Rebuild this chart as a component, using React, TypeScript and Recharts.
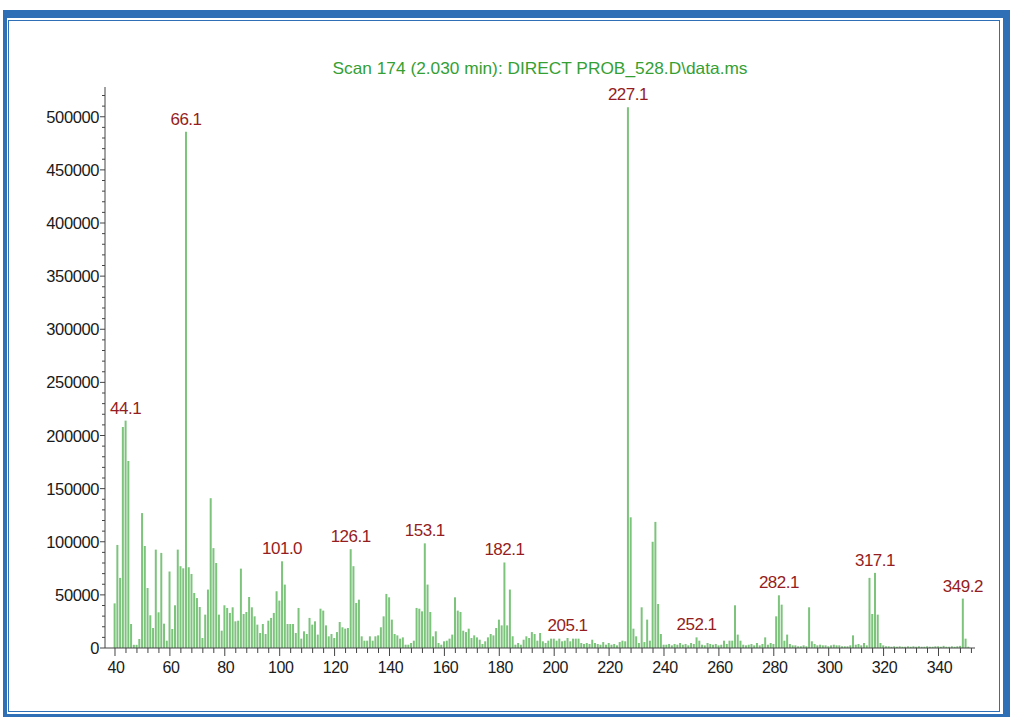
import React from 'react';
import { BarChart, Bar, XAxis, YAxis, LabelList } from 'recharts';

// Mass spectrum of scan 174: abundance for every integer m/z, starting at m/z 40.
const FIRST_MZ = 40;

const abundance040 = [42000, 97000, 66000, 208000, 214000, 176000, 22600, 3000, 3000, 8500];
const abundance050 = [127000, 96000, 56500, 30800, 18800, 92600, 33600, 89500, 22900, 6900];
const abundance060 = [72000, 17900, 40200, 92600, 77000, 75000, 486000, 76000, 69700, 51800];
const abundance070 = [47000, 38600, 9400, 31400, 55000, 141000, 94000, 80000, 31400, 16300];
const abundance080 = [40200, 37700, 33000, 38300, 25100, 25700, 74700, 32000, 33900, 48000];
const abundance090 = [38300, 29800, 22000, 14100, 22600, 13200, 25700, 28300, 33000, 53400];
const abundance100 = [44600, 81600, 59700, 22600, 22600, 22600, 14100, 37700, 8800, 15700];
const abundance110 = [13200, 28300, 22000, 25100, 12600, 37000, 35200, 21300, 11000, 13200];
const abundance120 = [9400, 15000, 24500, 19500, 18200, 18800, 93000, 77000, 42400, 45500];
const abundance130 = [11000, 6900, 6900, 11000, 6900, 11000, 11900, 19500, 29800, 50900];
const abundance140 = [47700, 26700, 13200, 11900, 8800, 10000, 3100, 3100, 4700, 6900];
const abundance150 = [37700, 37000, 34500, 98500, 59700, 33900, 11000, 15700, 4700, 3100];
const abundance160 = [6300, 6900, 8800, 12600, 47700, 35200, 33900, 16300, 15000, 18200];
const abundance170 = [9400, 11900, 10000, 7800, 3800, 6300, 10000, 13200, 11900, 18800];
const abundance180 = [26700, 21300, 80500, 21300, 55000, 11000, 3100, 4700, 3100, 7800];
const abundance190 = [11000, 9400, 15000, 13200, 6900, 14100, 6300, 4700, 6900, 8800];
const abundance200 = [8800, 6900, 8800, 6300, 6900, 9400, 6300, 8800, 8800, 8800];
const abundance210 = [4700, 3800, 4700, 3800, 7800, 4700, 3800, 3100, 5600, 3100];
const abundance220 = [4700, 3100, 3800, 2500, 5600, 6900, 6300, 509000, 123000, 18200];
const abundance230 = [11000, 4700, 38300, 5600, 26700, 6900, 100000, 118700, 41400, 13200];
const abundance240 = [3100, 3100, 3800, 2500, 3800, 3100, 4700, 3100, 3800, 2500];
const abundance250 = [4700, 3800, 10000, 6900, 3100, 2500, 4700, 3800, 3100, 3800];
const abundance260 = [2500, 3100, 6900, 3800, 6900, 6900, 40200, 12600, 6900, 3100];
const abundance270 = [2500, 3100, 3800, 2500, 4700, 2500, 3800, 10000, 3100, 4700];
const abundance280 = [3800, 29800, 49600, 40800, 6900, 12600, 3800, 2500, 2500, 1600];
const abundance290 = [1600, 2500, 1600, 38300, 6300, 3800, 2500, 3100, 2500, 2500];
const abundance300 = [1600, 2500, 3100, 2500, 2500, 1600, 1600, 1600, 2500, 11900];
const abundance310 = [3100, 3800, 2500, 4700, 2500, 66000, 32000, 70700, 31400, 4700];
const abundance320 = [2500, 1600, 1600, 1200, 1600, 1200, 1600, 1200, 1200, 1600];
const abundance330 = [1200, 1600, 1200, 1600, 1200, 1200, 1600, 1200, 1200, 1600];
const abundance340 = [1600, 1200, 2000, 1200, 1200, 1600, 1200, 1600, 2000, 46500];
const abundance350 = [8800, 1200];

const abundance = [
  ...abundance040, ...abundance050, ...abundance060, ...abundance070, ...abundance080,
  ...abundance090, ...abundance100, ...abundance110, ...abundance120, ...abundance130,
  ...abundance140, ...abundance150, ...abundance160, ...abundance170, ...abundance180,
  ...abundance190, ...abundance200, ...abundance210, ...abundance220, ...abundance230,
  ...abundance240, ...abundance250, ...abundance260, ...abundance270, ...abundance280,
  ...abundance290, ...abundance300, ...abundance310, ...abundance320, ...abundance330,
  ...abundance340, ...abundance350,
];

// Annotated peaks (m/z as reported by the data system)
const peakLabels = ['44.1', '66.1', '101.0', '126.1', '153.1', '182.1', '205.1', '227.1', '252.1', '282.1', '317.1', '349.2'];

const xMajorTicks = [40, 60, 80, 100, 120, 140, 160, 180, 200, 220, 240, 260, 280, 300, 320, 340];
const xTicks = Array.from({ length: 79 }, (_, i) => 40 + i * 4);
const yMajorTicks = [0, 50000, 100000, 150000, 200000, 250000, 300000, 350000, 400000, 450000, 500000];
const yTicks = Array.from({ length: 53 }, (_, i) => i * 10000);

const rows = abundance.map((value, i) => {
  const mz = FIRST_MZ + i;
  const tag = peakLabels.find((l) => Math.round(parseFloat(l)) === mz) ?? '';
  return { mz, abundance: value, tag };
});

const FONT = "'Liberation Sans', Arial, sans-serif";
const BLUE = '#2f6fb6';
const AXIS = '#444';

const XTick = (props: any) => {
  const { x, y, payload } = props;
  const v = payload.value;
  const major = xMajorTicks.includes(v);
  return (
    <g>
      <line x1={x} y1={y} x2={x} y2={y + (major ? 8 : 5)} stroke={AXIS} strokeWidth={1} />
      {major && (
        <text x={x + 1} y={y + 25} textAnchor="middle" fontFamily={FONT} fontSize={16} letterSpacing={-0.4} fill="#1a1a1a">
          {v}
        </text>
      )}
    </g>
  );
};

const YTick = (props: any) => {
  const { x, y, payload } = props;
  const v = payload.value;
  const major = yMajorTicks.includes(v);
  return (
    <g>
      <line x1={x - (major ? 5 : 3)} y1={y} x2={x} y2={y} stroke={AXIS} strokeWidth={1} />
      {major && (
        <text x={x - 6} y={y + 6} textAnchor="end" fontFamily={FONT} fontSize={16.5} letterSpacing={-0.4} fill="#1a1a1a">
          {v}
        </text>
      )}
    </g>
  );
};

const PeakTag = (props: any) => {
  const { x, y, width, value } = props;
  if (!value) return null;
  return (
    <text x={x + width / 2} y={y - 7} textAnchor="middle" fontFamily={FONT} fontSize={17} letterSpacing={-0.5} fill="#951d22">
      {value}
    </text>
  );
};

export default function App() {
  return (
    <div style={{ position: 'absolute', left: 0, top: 0, width: 1010, height: 717, background: '#fff' }}>
      {/* double blue frame */}
      <div
        style={{
          position: 'absolute', left: 3, top: 10, right: 0, bottom: 0,
          borderStyle: 'solid', borderColor: BLUE,
          borderTopWidth: 8, borderLeftWidth: 4, borderBottomWidth: 3, borderRightWidth: 7,
        }}
      />
      <div
        style={{
          position: 'absolute', left: 8, top: 20, width: 992, height: 692,
          border: `1.5px solid ${BLUE}`, boxSizing: 'border-box',
        }}
      />
      <div style={{ position: 'absolute', left: 0, top: 0 }}>
        <BarChart width={1010} height={717} data={rows} margin={{ top: 87, right: 35, bottom: 0, left: 0 }}>
          <text
            x={540}
            y={74}
            textAnchor="middle"
            textLength={415}
            lengthAdjust="spacingAndGlyphs"
            fontFamily={FONT}
            fontSize={16.5}
            fill="#34a034"
          >
            {'Scan 174 (2.030 min): DIRECT PROB_528.D\\data.ms'}
          </text>
          <XAxis
            type="number"
            dataKey="mz"
            domain={[36.36, 353.3]}
            allowDataOverflow
            ticks={xTicks}
            interval={0}
            height={69}
            tickSize={0}
            tickMargin={0}
            axisLine={{ stroke: AXIS }}
            tickLine={false}
            tick={(p: any) => <XTick {...p} />}
          />
          <YAxis
            type="number"
            domain={[0, 528000]}
            allowDataOverflow
            ticks={yTicks}
            interval={0}
            width={105}
            tickSize={0}
            tickMargin={0}
            axisLine={{ stroke: AXIS }}
            tickLine={false}
            tick={(p: any) => <YTick {...p} />}
          />
          <Bar dataKey="abundance" fill="#7cc47c" barSize={2} isAnimationActive={false}>
            <LabelList dataKey="tag" content={(p: any) => <PeakTag {...p} />} />
          </Bar>
        </BarChart>
      </div>
    </div>
  );
}
